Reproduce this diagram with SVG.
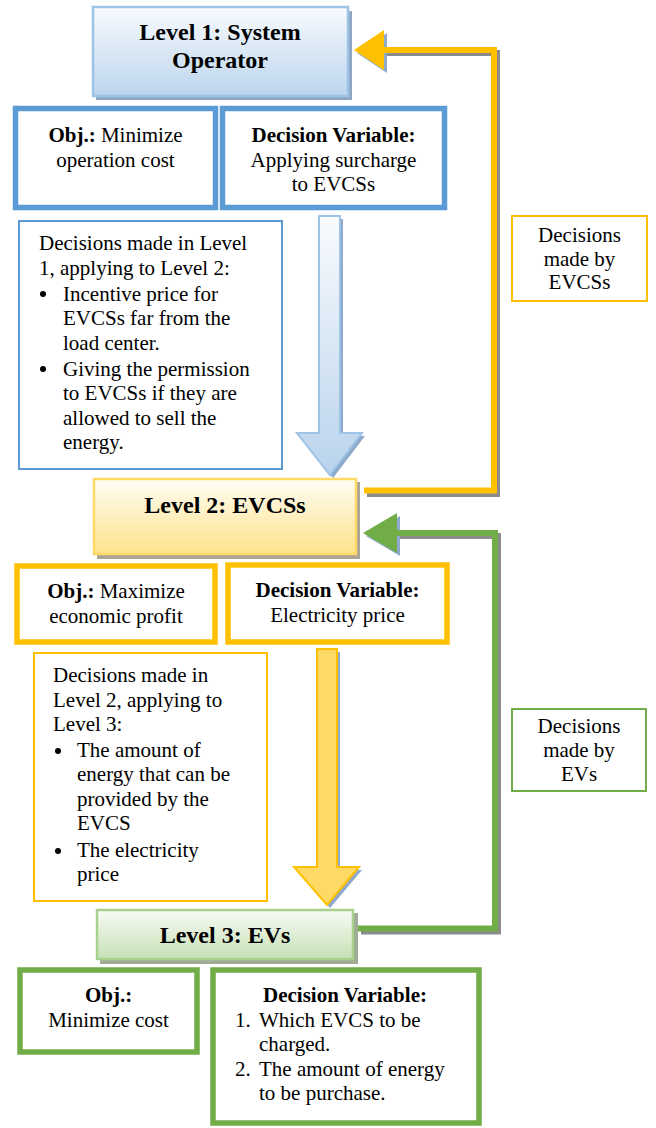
<svg xmlns="http://www.w3.org/2000/svg" width="656" height="1128" viewBox="0 0 656 1128">
<defs>
<linearGradient id="gBlue" x1="0" y1="0" x2="0" y2="1"><stop offset="0" stop-color="#f8fbfe"/><stop offset="1" stop-color="#bcd5ed"/></linearGradient>
<linearGradient id="gYellow" x1="0" y1="0" x2="0" y2="1"><stop offset="0" stop-color="#fffdf5"/><stop offset="1" stop-color="#ffe28a"/></linearGradient>
<linearGradient id="gGreen" x1="0" y1="0" x2="0" y2="1"><stop offset="0" stop-color="#f8fbf5"/><stop offset="1" stop-color="#c6e0b5"/></linearGradient>
<linearGradient id="gArrowBlue" x1="0" y1="0" x2="0" y2="1"><stop offset="0" stop-color="#f9fbfe"/><stop offset="1" stop-color="#b9d3ec"/></linearGradient>
<style>
text{font-family:"Liberation Serif","Times New Roman",serif;font-size:21px;fill:#000}
.title{font-size:24px;font-weight:bold}
.b{font-weight:bold}
.c{text-anchor:middle}
.thick{fill:#fff;stroke-width:5.5}
.thin{fill:#fff;stroke-width:2}
.blue{stroke:#5b9bd5}
.yel{stroke:#ffc000}
.grn{stroke:#70ad47}
.shadow{fill:none;stroke:#8c8c8c;stroke-width:6}
</style>
</defs>
<rect width="656" height="1128" fill="#fff"/>

<g id="connectors">
  <!-- yellow feedback: Level 2 -> Level 1 -->
  <path class="shadow" d="M367,494 H497 V53 H387"/>
  <polygon points="357,53 387,33 387,73" fill="#8ea9c9"/>
  <path d="M364,490.5 H494 V50 H384" fill="none" stroke="#ffc000" stroke-width="6"/>
  <polygon points="354,50 384,30 384,70" fill="#ffc000"/>
  <!-- green feedback: Level 3 -> Level 2 -->
  <path class="shadow" d="M361,931.5 H498 V536 H400"/>
  <polygon points="366,536 400,516 400,556" fill="#8ea9c9"/>
  <path d="M358,928.5 H495 V533 H397" fill="none" stroke="#70ad47" stroke-width="6"/>
  <polygon points="363,533 397,513 397,553" fill="#70ad47"/>
  <!-- blue down arrow -->
  <polygon points="322,219 343,219 343,436 365,436 333,478 300,436 322,436" fill="#8ea9c9"/>
  <polygon points="319,216 340,216 340,433 362,433 330,475 297,433 319,433" fill="url(#gArrowBlue)" stroke="#9dc3e6" stroke-width="2"/>
  <!-- yellow down arrow -->
  <polygon points="320,652 340,652 340,870 362,870 330,908 297,870 320,870" fill="#8ea9c9"/>
  <polygon points="317,649 337,649 337,867 359,867 327,905 294,867 317,867" fill="#ffd966" stroke="#ffc000" stroke-width="2"/>
</g>

<g id="level1">
  <rect x="96" y="11" width="256" height="89" fill="#8fa7c4"/>
  <rect x="93" y="7" width="255" height="89" fill="url(#gBlue)" stroke="#9dc3e6" stroke-width="2.5"/>
  <text class="title c" x="220" y="40">Level 1: System</text>
  <text class="title c" x="220" y="68">Operator</text>
</g>

<g id="level1-obj">
  <rect class="thick blue" x="15.5" y="108.5" width="200" height="99"/>
  <text class="c" x="115.5" y="142"><tspan class="b">Obj.:</tspan> Minimize</text>
  <text class="c" x="115.5" y="167">operation cost</text>
</g>

<g id="level1-dv">
  <rect class="thick blue" x="222.5" y="108.5" width="222" height="99"/>
  <text class="c b" x="333.5" y="142">Decision Variable:</text>
  <text class="c" x="333.5" y="166.5">Applying surcharge</text>
  <text class="c" x="333.5" y="191">to EVCSs</text>
</g>

<g id="level1-decisions">
  <rect class="thin blue" x="19" y="221" width="263" height="248"/>
  <text x="39" y="250">Decisions made in Level</text>
  <text x="39" y="274.5">1, applying to Level 2:</text>
  <circle cx="43" cy="294" r="3"/>
  <text x="63" y="300.5">Incentive price for</text>
  <text x="63" y="325">EVCSs far from the</text>
  <text x="63" y="349.5">load center.</text>
  <circle cx="43" cy="369" r="3"/>
  <text x="63" y="375.5">Giving the permission</text>
  <text x="63" y="400">to EVCSs if they are</text>
  <text x="63" y="424.5">allowed to sell the</text>
  <text x="63" y="449">energy.</text>
</g>

<g id="label-evcss">
  <rect class="thin yel" x="512" y="216" width="135" height="85"/>
  <text class="c" x="579.5" y="242">Decisions</text>
  <text class="c" x="579.5" y="265.5">made by</text>
  <text class="c" x="579.5" y="289">EVCSs</text>
</g>

<g id="level2">
  <rect x="97" y="482" width="263" height="77" fill="#aaa597"/>
  <rect x="94" y="479" width="262" height="75" fill="url(#gYellow)" stroke="#ffd966" stroke-width="2.5"/>
  <text class="title c" x="225" y="513">Level 2: EVCSs</text>
</g>

<g id="level2-obj">
  <rect class="thick yel" x="17" y="566" width="198" height="76" stroke-width="6"/>
  <text class="c" x="116" y="598"><tspan class="b">Obj.:</tspan> Maximize</text>
  <text class="c" x="116" y="623">economic profit</text>
</g>

<g id="level2-dv">
  <rect class="thick yel" x="228" y="565" width="219" height="77" stroke-width="6"/>
  <text class="c b" x="337.5" y="597">Decision Variable:</text>
  <text class="c" x="337.5" y="622">Electricity price</text>
</g>

<g id="level2-decisions">
  <rect class="thin yel" x="34" y="653" width="233" height="248"/>
  <text x="53" y="682">Decisions made in</text>
  <text x="53" y="707">Level 2, applying to</text>
  <text x="53" y="731">Level 3:</text>
  <circle cx="58" cy="751" r="3"/>
  <text x="77" y="757">The amount of</text>
  <text x="77" y="781">energy that can be</text>
  <text x="77" y="805.5">provided by the</text>
  <text x="77" y="830">EVCS</text>
  <circle cx="58" cy="851" r="3"/>
  <text x="77" y="857">The electricity</text>
  <text x="77" y="881">price</text>
</g>

<g id="label-evs">
  <rect class="thin grn" x="512" y="709" width="134" height="82"/>
  <text class="c" x="579" y="733">Decisions</text>
  <text class="c" x="579" y="757">made by</text>
  <text class="c" x="579" y="781">EVs</text>
</g>

<g id="level3">
  <rect x="100" y="913" width="258" height="51" fill="#9fab94"/>
  <rect x="97" y="910" width="256" height="49" fill="url(#gGreen)" stroke="#a9d18e" stroke-width="2.5"/>
  <text class="title c" x="225" y="943">Level 3: EVs</text>
</g>

<g id="level3-obj">
  <rect class="thick grn" x="20" y="970" width="177" height="82" stroke-width="6"/>
  <text class="c b" x="108.5" y="1002">Obj.:</text>
  <text class="c" x="108.5" y="1027">Minimize cost</text>
</g>

<g id="level3-dv">
  <rect class="thick grn" x="213" y="970" width="266" height="153" stroke-width="6"/>
  <text class="c b" x="345" y="1002">Decision Variable:</text>
  <text x="235" y="1026.5">1.</text>
  <text x="259" y="1026.5">Which EVCS to be</text>
  <text x="259" y="1051">charged.</text>
  <text x="235" y="1075.5">2.</text>
  <text x="259" y="1075.5">The amount of energy</text>
  <text x="259" y="1100">to be purchase.</text>
</g>
</svg>
